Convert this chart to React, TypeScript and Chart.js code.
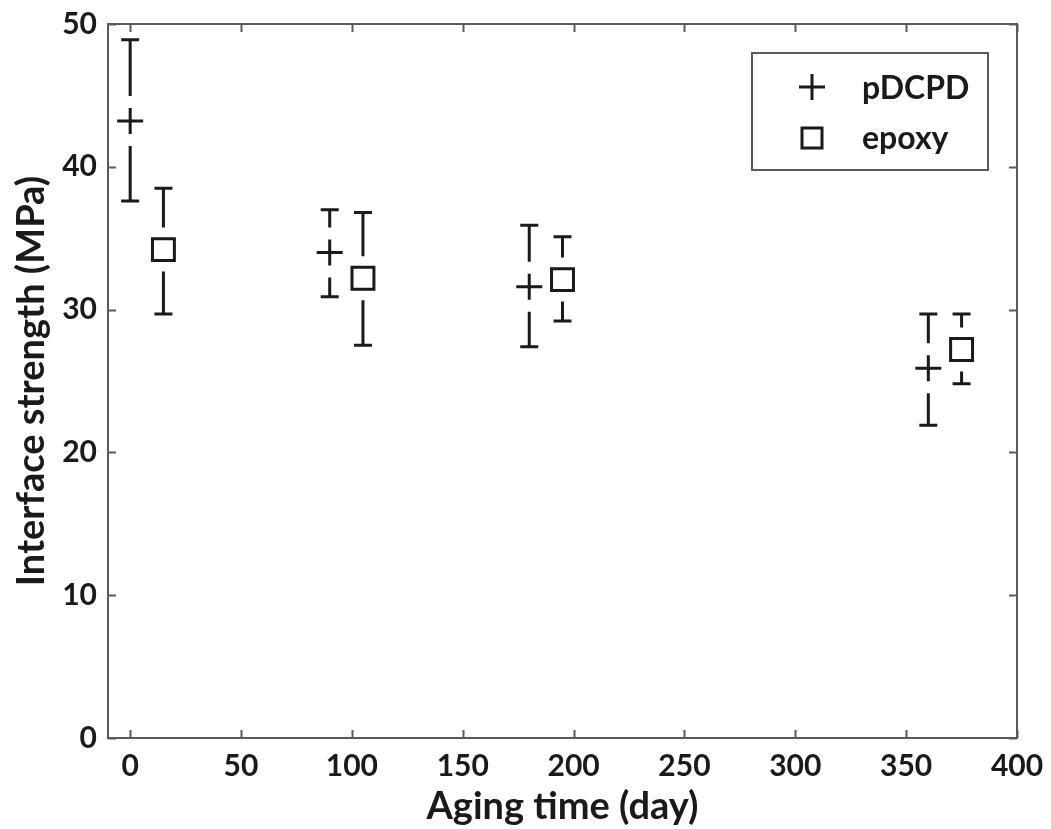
import React, { useEffect, useRef } from 'react';
import { Chart, registerables } from 'chart.js';

Chart.register(...registerables);

const seriesNames = ['pDCPD', 'epoxy'];
const pdcpdDays = [0, 90, 180, 360];
const pdcpdMean = [43.2, 34.0, 31.6, 25.9];
const pdcpdLow = [37.6, 30.9, 27.4, 21.9];
const pdcpdHigh = [48.9, 37.0, 35.9, 29.7];
const epoxyDays = [15, 105, 195, 375];
const epoxyMean = [34.2, 32.2, 32.1, 27.2];
const epoxyLow = [29.7, 27.5, 29.2, 24.8];
const epoxyHigh = [38.5, 36.8, 35.1, 29.7];
const xTickValues = [0, 50, 100, 150, 200, 250, 300, 350, 400];
const yTickValues = [0, 10, 20, 30, 40, 50];

const FONT = 'Lato, "DejaVu Sans", sans-serif';
const INK = '#1a1a1a';
const FRAME = '#5a5a5a';

const errorBarPlugin = {
  id: 'errorBars',
  beforeDatasetsDraw(chart: any) {
    const { ctx, scales } = chart;
    const x = scales.x;
    const y = scales.y;
    const sets = [
      { days: pdcpdDays, mean: pdcpdMean, low: pdcpdLow, high: pdcpdHigh, gap: 25 },
      { days: epoxyDays, mean: epoxyMean, low: epoxyLow, high: epoxyHigh, gap: 22 },
    ];
    ctx.save();
    ctx.strokeStyle = INK;
    ctx.lineWidth = 3;
    ctx.lineCap = 'butt';
    const cap = 9;
    sets.forEach((s) => {
      s.days.forEach((d, i) => {
        const px = x.getPixelForValue(d);
        const pm = y.getPixelForValue(s.mean[i]);
        const pt = y.getPixelForValue(s.high[i]);
        const pb = y.getPixelForValue(s.low[i]);
        ctx.beginPath();
        if (pm - s.gap > pt) {
          ctx.moveTo(px, pt);
          ctx.lineTo(px, pm - s.gap);
        }
        if (pm + s.gap < pb) {
          ctx.moveTo(px, pm + s.gap);
          ctx.lineTo(px, pb);
        }
        ctx.moveTo(px - cap, pt);
        ctx.lineTo(px + cap, pt);
        ctx.moveTo(px - cap, pb);
        ctx.lineTo(px + cap, pb);
        ctx.stroke();
      });
    });
    ctx.restore();
  },
  afterDraw(chart: any) {
    const { ctx, chartArea, scales } = chart;
    const { left, right, top, bottom } = chartArea;
    ctx.save();
    ctx.strokeStyle = FRAME;
    ctx.lineWidth = 2;
    ctx.strokeRect(left, top, right - left, bottom - top);
    const tl = 8;
    ctx.beginPath();
    xTickValues.forEach((v) => {
      const px = Math.round(scales.x.getPixelForValue(v)) + 0.5;
      ctx.moveTo(px, bottom);
      ctx.lineTo(px, bottom - tl);
      ctx.moveTo(px, top);
      ctx.lineTo(px, top + tl);
    });
    yTickValues.forEach((v) => {
      const py = Math.round(scales.y.getPixelForValue(v)) + 0.5;
      ctx.moveTo(left, py);
      ctx.lineTo(left + tl, py);
      ctx.moveTo(right, py);
      ctx.lineTo(right - tl, py);
    });
    ctx.stroke();

    // legend
    const bx = right - 265;
    const by = top + 29;
    const bw = 236;
    const bh = 117;
    ctx.fillStyle = '#ffffff';
    ctx.fillRect(bx, by, bw, bh);
    ctx.strokeStyle = FRAME;
    ctx.lineWidth = 2;
    ctx.strokeRect(bx, by, bw, bh);
    const mx = bx + 60;
    const row1 = by + 34;
    const row2 = by + 85;
    ctx.strokeStyle = INK;
    ctx.lineWidth = 3;
    ctx.beginPath();
    ctx.moveTo(mx - 13, row1);
    ctx.lineTo(mx + 13, row1);
    ctx.moveTo(mx, row1 - 13);
    ctx.lineTo(mx, row1 + 13);
    ctx.stroke();
    ctx.strokeRect(mx - 10, row2 - 10, 20, 20);
    ctx.fillStyle = INK;
    ctx.font = `bold 32px ${FONT}`;
    ctx.textBaseline = 'middle';
    ctx.textAlign = 'left';
    ctx.fillText(seriesNames[0], bx + 110, row1 + 2);
    ctx.fillText(seriesNames[1], bx + 110, row2 + 1);
    ctx.restore();
  },
};

const zeroPad = (s: any) => {
  s.paddingLeft = 0;
  s.paddingRight = 0;
  s.paddingTop = 0;
  s.paddingBottom = 0;
};

export default function App() {
  const canvasRef = useRef<HTMLCanvasElement | null>(null);

  useEffect(() => {
    document.body.style.margin = '0';
    const canvas = canvasRef.current;
    if (!canvas) return;
    const chart = new Chart(canvas, {
      type: 'scatter',
      data: {
        datasets: [
          {
            label: seriesNames[0],
            data: pdcpdDays.map((d, i) => ({ x: d, y: pdcpdMean[i] })),
            pointStyle: 'cross',
            pointRadius: 13,
            pointBorderWidth: 3,
            borderColor: INK,
            backgroundColor: INK,
          },
          {
            label: seriesNames[1],
            data: epoxyDays.map((d, i) => ({ x: d, y: epoxyMean[i] })),
            pointStyle: 'rect',
            pointRadius: 15.5,
            pointBorderWidth: 3,
            borderColor: INK,
            backgroundColor: '#ffffff',
          },
        ],
      },
      options: {
        animation: false,
        responsive: true,
        maintainAspectRatio: false,
        layout: { padding: { top: 24, right: 34, left: 0, bottom: 0 } },
        plugins: {
          legend: { display: false },
          tooltip: { enabled: false },
        },
        scales: {
          x: {
            type: 'linear',
            min: -10,
            max: 400,
            afterBuildTicks: (s: any) => {
              s.ticks = xTickValues.map((v) => ({ value: v }));
            },
            afterFit: (s: any) => {
              s.height = 91;
              zeroPad(s);
            },
            grid: { display: false, drawTicks: false },
            border: { display: false },
            ticks: {
              padding: 10,
              color: INK,
              font: { family: FONT, size: 30, weight: 'bold' },
              maxRotation: 0,
              autoSkip: false,
            },
            title: {
              display: true,
              text: 'Aging time (day)',
              color: INK,
              font: { family: FONT, size: 38, weight: 'bold' },
              padding: { top: 0, bottom: -1 },
            },
          },
          y: {
            type: 'linear',
            min: 0,
            max: 50,
            afterBuildTicks: (s: any) => {
              s.ticks = yTickValues.map((v) => ({ value: v }));
            },
            afterFit: (s: any) => {
              s.width = 108;
              zeroPad(s);
            },
            grid: { display: false, drawTicks: false },
            border: { display: false },
            ticks: {
              padding: 11,
              color: INK,
              font: { family: FONT, size: 30, weight: 'bold' },
            },
            title: {
              display: true,
              text: 'Interface strength (MPa)',
              color: INK,
              font: { family: FONT, size: 38, weight: 'bold' },
              padding: { top: 9, bottom: 0 },
            },
          },
        },
      },
      plugins: [errorBarPlugin],
    });
    return () => chart.destroy();
  }, []);

  return (
    <div style={{ width: 1051, height: 829, position: 'relative', background: '#fff' }}>
      <canvas ref={canvasRef} />
    </div>
  );
}
